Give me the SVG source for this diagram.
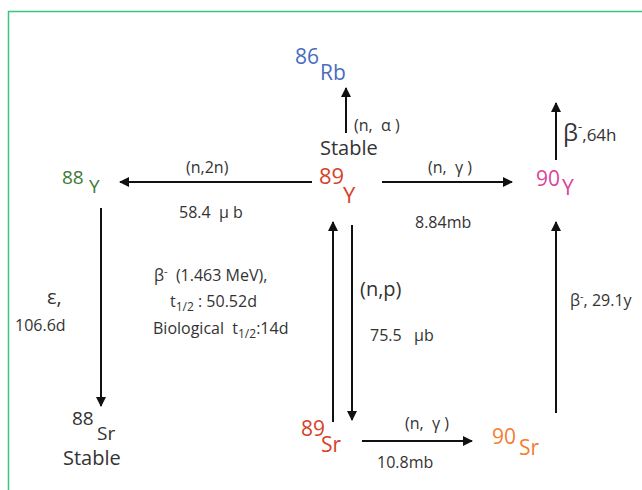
<svg xmlns="http://www.w3.org/2000/svg" width="642" height="490" viewBox="0 0 642 490">
  <defs>
    <marker id="ah" viewBox="0 0 10 10" refX="9" refY="5" markerWidth="10" markerHeight="10" markerUnits="userSpaceOnUse" orient="auto">
      <path d="M0,0 L10,5 L0,10 z" fill="#111"/>
    </marker>
    <style>
      text { font-family: "Open Sans", "Noto Sans", sans-serif; fill: #333; }
      .lbl { font-size: 16px; }
      .big { font-size: 20px; }
      .iso { font-size: 22px; }
      .red { fill: #d8402a; }
      .grn { fill: #3f7a35; }
      .blu { fill: #4a6cc0; }
      .mag { fill: #d9449a; }
      .org { fill: #f47c2e; }
      .conn line { stroke: #111; stroke-width: 2; }
    </style>
  </defs>

  <rect x="0" y="0" width="642" height="490" fill="#fff"/>
  <!-- frame -->
  <path d="M8.5,490 V11.5 H642" fill="none" stroke="#3cc47c" stroke-width="1.5"/>

  <!-- connectors -->
  <g class="conn">
    <line x1="346" y1="133" x2="346" y2="88" marker-end="url(#ah)"/>
    <line x1="312" y1="182" x2="120" y2="182" marker-end="url(#ah)"/>
    <line x1="382" y1="182" x2="512" y2="182" marker-end="url(#ah)"/>
    <line x1="556" y1="160" x2="556" y2="103" marker-end="url(#ah)"/>
    <line x1="101" y1="208" x2="101" y2="406" marker-end="url(#ah)"/>
    <line x1="333" y1="422" x2="333" y2="222" marker-end="url(#ah)"/>
    <line x1="352" y1="225" x2="352" y2="420" marker-end="url(#ah)"/>
    <line x1="556" y1="413" x2="556" y2="222" marker-end="url(#ah)"/>
    <line x1="362" y1="441" x2="472" y2="441" marker-end="url(#ah)"/>
  </g>

  <!-- connector labels -->
  <g id="labels">
    <text class="lbl" x="354" y="131">(n,&#160; α )</text>
    <text class="lbl" x="186" y="173">(n,2n)</text>
    <text class="lbl" x="179" y="218" font-size="17">58.4&#160; μ b</text>
    <text class="lbl" x="428" y="173">(n,&#160; γ )</text>
    <text class="lbl" x="415" y="228" font-size="17">8.84mb</text>
    <text x="563" y="141"><tspan font-size="24">β</tspan><tspan font-size="13" dy="-10">-</tspan><tspan font-size="17" dy="10">,64h</tspan></text>
    <text class="big" x="47" y="304">ε,</text>
    <text class="lbl" x="15" y="331">106.6d</text>
    <text class="lbl" x="154" y="281">β<tspan font-size="11" dy="-6">-</tspan><tspan dy="6">&#160; (1.463 MeV),</tspan></text>
    <text class="lbl" x="170" y="307">t<tspan font-size="12" dy="4">1/2</tspan><tspan dy="-4"> : 50.52d</tspan></text>
    <text class="lbl" x="153" y="334">Biological&#160; t<tspan font-size="12" dy="4">1/2</tspan><tspan dy="-4">:14d</tspan></text>
    <text class="big" x="360" y="296">(n,p)</text>
    <text class="lbl" x="370" y="341" font-size="17">75.5&#160;&#160; μb</text>
    <text class="lbl" x="570" y="306">β<tspan font-size="11" dy="-6">-</tspan><tspan dy="6">, 29.1y</tspan></text>
    <text class="lbl" x="405" y="429">(n,&#160; γ )</text>
    <text class="lbl" x="377" y="468" font-size="17">10.8mb</text>
  </g>

  <!-- nuclides -->
  <g id="rb86">
    <text class="blu" x="295" y="64" font-size="21">86</text>
    <text class="blu" x="320" y="80" font-size="21">Rb</text>
  </g>
  <g id="y89">
    <text class="big" x="320" y="155">Stable</text>
    <text class="red iso" x="319" y="184">89</text>
    <text class="red iso" x="343" y="203">Y</text>
  </g>
  <g id="y88">
    <text class="grn" x="62" y="184" font-size="19">88</text>
    <text class="grn" x="89" y="193" font-size="19">Y</text>
  </g>
  <g id="y90">
    <text class="mag" x="536" y="186" font-size="21">90</text>
    <text class="mag" x="562" y="195" font-size="21">Y</text>
  </g>
  <g id="sr88">
    <text x="72" y="425" font-size="19">88</text>
    <text x="97" y="440" font-size="19">Sr</text>
    <text class="big" x="63" y="465">Stable</text>
  </g>
  <g id="sr89">
    <text class="red" x="301" y="436" font-size="21">89</text>
    <text class="red" x="321" y="452" font-size="21">Sr</text>
  </g>
  <g id="sr90">
    <text class="org" x="492" y="444" font-size="21">90</text>
    <text class="org" x="519" y="455" font-size="21">Sr</text>
  </g>
</svg>
